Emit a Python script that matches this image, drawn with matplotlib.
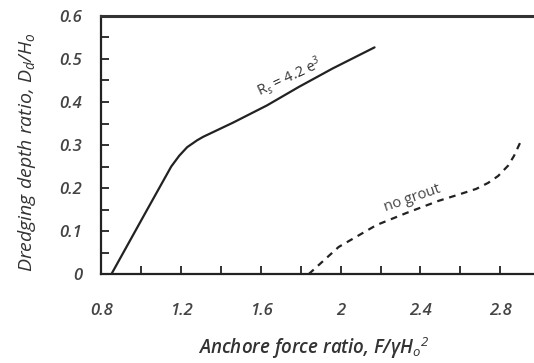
import matplotlib
matplotlib.use("Agg")
import matplotlib.pyplot as plt

# Data
grout_x = [0.85, 1.02, 1.15, 1.19, 1.23, 1.28, 1.31, 1.36, 1.41, 1.46, 1.63, 1.79, 1.96, 2.17]
grout_y = [0.0, 0.142, 0.25, 0.275, 0.295, 0.311, 0.319, 0.330, 0.341, 0.352, 0.392, 0.435, 0.478, 0.527]
nogrout_x = [1.84, 1.99, 2.18, 2.33, 2.49, 2.60, 2.68, 2.74, 2.79, 2.84, 2.87, 2.90]
nogrout_y = [0.0, 0.063, 0.114, 0.142, 0.170, 0.186, 0.198, 0.212, 0.228, 0.252, 0.275, 0.305]
xticks_major = [0.8, 1.2, 1.6, 2.0, 2.4, 2.8]
xtick_labels = ["0.8", "1.2", "1.6", "2", "2.4", "2.8"]
yticks_major = [0, 0.1, 0.2, 0.3, 0.4, 0.5, 0.6]
ytick_labels = ["0", "0.1", "0.2", "0.3", "0.4", "0.5", "0.6"]

plt.rcParams['font.family'] = ['Open Sans', 'DejaVu Sans']
plt.rcParams['mathtext.fontset'] = 'custom'
plt.rcParams['mathtext.rm'] = 'Open Sans:italic'
plt.rcParams['mathtext.it'] = 'Open Sans:italic'
plt.rcParams['mathtext.bf'] = 'Open Sans:bold:italic'

fig = plt.figure(figsize=(5.34, 3.63), dpi=100)
ax = fig.add_axes([0.190, 0.245, 0.81, 0.711])

ax.plot(grout_x, grout_y, color='#222222', lw=1.6, solid_capstyle='round')
ax.plot(nogrout_x, nogrout_y, color='#222222', lw=1.6, linestyle=(0, (3, 2.6)))

ax.set_xlim(0.8, 2.97)
ax.set_ylim(0, 0.6)
ax.spines['right'].set_visible(False)
for s in ['bottom', 'left']:
    ax.spines[s].set_linewidth(1.6)
    ax.spines[s].set_color('#222222')
ax.spines['top'].set_linewidth(2.2)
ax.spines['top'].set_color('#333333')

ax.set_xticks(xticks_major)
ax.set_xticklabels(xtick_labels, fontsize=12, style='italic', fontweight='semibold', color='#444444')
ax.set_xticks([1.0, 1.4, 1.8, 2.2, 2.6], minor=True)
ax.set_yticks(yticks_major)
ax.set_yticklabels(ytick_labels, fontsize=12, style='italic', fontweight='semibold', color='#444444')
ax.set_yticks([0.05, 0.15, 0.25, 0.35, 0.45, 0.55], minor=True)
ax.tick_params(axis='both', which='both', direction='in', length=6, width=1.3,
               color='#222222', top=False, right=False)
ax.tick_params(axis='x', which='major', pad=21)
ax.tick_params(axis='y', which='major', pad=14)

fig.text(0.588, 0.041, r"Anchore force ratio, F/γH$_o$$^2$",
         ha='center', va='center', fontsize=13.5, style='italic', fontweight='semibold',
         color='#333333')
fig.text(0.05, 0.582, r"Dredging depth ratio, D$_d$/H$_o$", rotation=90,
         ha='center', va='center', fontsize=14, style='italic', color='#333333')

ax.text(1.74, 0.458, r"R$_s$ = 4.2 e$^3$", rotation=25, ha='center', va='center',
        fontsize=10.5, color='#333333', rotation_mode='anchor')
ax.text(2.36, 0.176, "no grout", rotation=19, ha='center', va='center',
        fontsize=10.5, color='#444444', rotation_mode='anchor')

fig.savefig("out.png", dpi=100)
